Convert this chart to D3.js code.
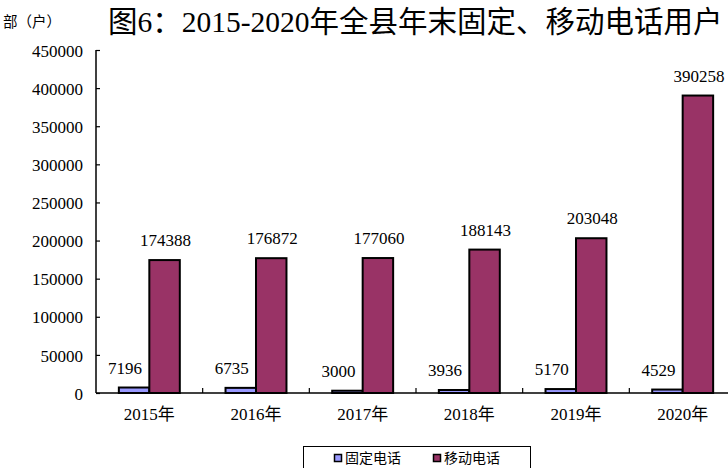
<!DOCTYPE html>
<html>
<head>
<meta charset="utf-8">
<script src="https://cdn.jsdelivr.net/npm/d3@7/dist/d3.min.js"></script>
<style>
  body { margin: 0; background: #fff; }
  svg { display: block; }
</style>
</head>
<body>
<div id="chart"></div>
<script>
// data
const years = ["2015年", "2016年", "2017年", "2018年", "2019年", "2020年"];
const seriesNames = ["固定电话", "移动电话"];
const fixedPhone = [7196, 6735, 3000, 3936, 5170, 4529];
const mobilePhone = [174388, 176872, 177060, 188143, 203048, 390258];
const yTicks = [0, 50000, 100000, 150000, 200000, 250000, 300000, 350000, 400000, 450000];
const colors = ["#9999FF", "#993366"];

const W = 728, H = 468;
const numFont = "'Liberation Serif', 'Noto Sans CJK SC', serif";

const svg = d3.select("#chart").append("svg")
    .attr("width", W)
    .attr("height", H);

// escalas
const x0 = d3.scaleBand()
    .domain(years)
    .range([96, 736])
    .paddingInner(0)
    .paddingOuter(0);

const x1 = d3.scaleBand()
    .domain(seriesNames)
    .range([0, x0.bandwidth()])
    .paddingInner(0)
    .paddingOuter(0.75);

const y = d3.scaleLinear()
    .domain([0, 450000])
    .range([393, 50]);

const rows = years.map((yr, i) => ({
    year: yr,
    values: [
        {series: seriesNames[0], value: fixedPhone[i], idx: 0},
        {series: seriesNames[1], value: mobilePhone[i], idx: 1}
    ]
}));

// titulo
svg.append("text")
    .attr("x", 108)
    .attr("y", 32)
    .attr("font-family", numFont)
    .attr("font-size", 29.5)
    .attr("fill", "#000")
    .text("图6：2015-2020年全县年末固定、移动电话用户");

svg.append("text")
    .attr("x", 3)
    .attr("y", 27)
    .attr("font-family", "'Noto Sans CJK SC', sans-serif")
    .attr("font-size", 14.5)
    .text("部（户）");

// eje y
const yAxis = svg.append("g")
    .attr("transform", "translate(96,0)")
    .call(d3.axisRight(y).tickValues(yTicks).tickSize(4).tickFormat(d3.format("d")));
yAxis.select(".domain").attr("stroke", "#000").attr("stroke-width", 1.5).attr("d", `M0,${y(450000)}V${y(0)}`);
yAxis.selectAll(".tick line").attr("stroke", "#000").attr("stroke-width", 1.2);
yAxis.selectAll(".tick text")
    .attr("x", -13)
    .attr("dy", "0.36em")
    .attr("text-anchor", "end")
    .attr("font-family", numFont)
    .attr("font-size", 17)
    .attr("fill", "#000");

// barras
const groups = svg.selectAll("g.year")
    .data(rows)
    .enter()
    .append("g")
    .attr("class", "year")
    .attr("transform", d => `translate(${x0(d.year)},0)`);

groups.selectAll("rect")
    .data(d => d.values)
    .enter()
    .append("rect")
    .attr("x", d => x1(d.series))
    .attr("y", d => y(d.value))
    .attr("width", x1.bandwidth())
    .attr("height", d => y(0) - y(d.value))
    .attr("fill", d => colors[d.idx])
    .attr("stroke", "#000")
    .attr("stroke-width", 2);

// etiquetas
groups.selectAll("text.label")
    .data(d => d.values)
    .enter()
    .append("text")
    .attr("class", "label")
    .attr("x", d => x1(d.series) + x1.bandwidth() / 2 + (d.idx === 0 ? -9 : 1))
    .attr("y", d => y(d.value) - 14)
    .attr("text-anchor", "middle")
    .attr("font-family", numFont)
    .attr("font-size", 17)
    .text(d => d.value);

// eje x
const xAxis = svg.append("g");
xAxis.append("line")
    .attr("x1", 96).attr("x2", 736)
    .attr("y1", y(0)).attr("y2", y(0))
    .attr("stroke", "#000").attr("stroke-width", 1.5);
xAxis.selectAll("line.tick")
    .data(years.slice(1))
    .enter()
    .append("line")
    .attr("class", "tick")
    .attr("x1", d => x0(d)).attr("x2", d => x0(d))
    .attr("y1", y(0)).attr("y2", y(0) - 5)
    .attr("stroke", "#000").attr("stroke-width", 1.2);
xAxis.selectAll("text")
    .data(years)
    .enter()
    .append("text")
    .attr("x", d => x0(d) + x0.bandwidth() / 2)
    .attr("y", 420)
    .attr("text-anchor", "middle")
    .attr("font-family", numFont)
    .attr("font-size", 17)
    .text(d => d);

// leyenda
const legend = svg.append("g");
legend.append("rect")
    .attr("x", 303.5).attr("y", 446.5)
    .attr("width", 227).attr("height", 30)
    .attr("fill", "#fff").attr("stroke", "#000").attr("stroke-width", 1);
const legX = [334, 433];
const items = legend.selectAll("g.item")
    .data(seriesNames)
    .enter()
    .append("g")
    .attr("transform", (d, i) => `translate(${legX[i]},0)`);
items.append("rect")
    .attr("x", 0.5).attr("y", 454.5)
    .attr("width", 7).attr("height", 7)
    .attr("fill", (d, i) => colors[i])
    .attr("stroke", "#000").attr("stroke-width", 1.5);
items.append("text")
    .attr("x", 11)
    .attr("y", 463)
    .attr("font-family", "'Noto Sans CJK SC', sans-serif")
    .attr("font-size", 14)
    .text(d => d);
</script>
</body>
</html>
